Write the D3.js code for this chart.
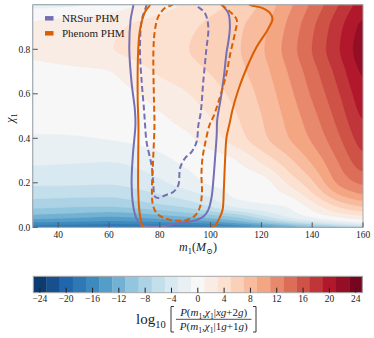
<!DOCTYPE html>
<html>
<head>
<meta charset="utf-8">
<style>
  body { margin: 0; background: #fff; }
  svg, text { font-family: "Liberation Serif", "Times New Roman", "DejaVu Serif", serif; }
  text { fill: #222; }
</style>
</head>
<body>
<svg width="374" height="338" font-family="Liberation Serif, Times New Roman, DejaVu Serif, serif"></svg>
<script src="https://cdn.jsdelivr.net/npm/d3@7"></script>
<script>

var m1Grid = [30, 40, 50, 60, 70, 80, 90, 100, 110, 120, 130, 140, 150, 160];
var chiGrid = [0, 0.02, 0.05, 0.1, 0.15, 0.2, 0.3, 0.4, 0.5, 0.6, 0.7, 0.8, 0.9, 1.0];
var logRatio = [
  [-19.0, -19.2, -19.5, -19.8, -19.8, -19.6, -19.4, -19.0, -18.0, -16.5, -14.5, -12.3, -10.0, -8.0],
  [-15.2, -15.4, -15.7, -16.0, -15.8, -15.4, -15.0, -14.2, -12.5, -10.3, -7.5, -4.8, -2.6, -0.9],
  [-11.6, -11.9, -12.3, -12.8, -12.4, -11.6, -10.7, -9.8, -8.4, -5.5, -2.5, -0.4, 1.4, 2.9],
  [-8.1, -8.3, -8.5, -8.5, -8.0, -7.2, -6.3, -4.5, -2.0, -1.2, -0.8, 2.0, 5.6, 7.8],
  [-6.2, -6.3, -6.4, -6.5, -5.9, -4.9, -3.9, -2.4, -0.5, -0.2, 1.1, 4.7, 9.0, 11.3],
  [-4.6, -4.6, -4.7, -4.8, -4.3, -3.4, -2.0, -0.7, -0.3, 0.0, 3.1, 6.5, 11.3, 13.6],
  [-2.6, -2.7, -2.8, -2.9, -2.5, -1.6, -0.6, -0.1, 0.9, 3.4, 6.2, 9.4, 13.0, 16.7],
  [-1.2, -1.2, -1.1, -0.9, -0.6, -0.1, 0.5, 2.1, 4.0, 6.4, 8.75, 11.3, 14.5, 18.4],
  [-0.3, -0.3, -0.2, 0.0, 0.3, 0.8, 1.8, 3.0, 4.85, 6.95, 9.45, 12.3, 15.65, 19.7],
  [0.0, 0.1, 0.2, 0.4, 0.85, 1.75, 2.8, 4.1, 5.6, 7.5, 10.15, 13.3, 16.65, 20.7],
  [0.3, 0.5, 0.7, 0.9, 2.05, 3.3, 4.2, 5.1, 6.3, 8.1, 10.9, 14.15, 17.65, 21.8],
  [1.4, 1.95, 2.45, 2.9, 3.55, 4.2, 4.87, 5.75, 6.68, 8.65, 11.64, 15.03, 18.65, 22.5],
  [1.3, 1.8, 2.2, 2.6, 3.25, 3.9, 4.6, 5.4, 6.5, 8.3, 11.2, 14.6, 18.2, 21.9],
  [-1.6, -1.5, -1.2, -0.4, 0.8, 2.0, 3.2, 4.4, 5.3, 7.3, 10.2, 13.4, 16.8, 20.3]
];

// credible-region contours, [m1, chi1]
var nrsurSolid = [[69.8,1.04],[69.6,1.0],[68.5,0.932],[68.0,0.797],[68.9,0.649],[70.2,0.527],[70.4,0.46],[69.4,0.325],[68.9,0.199],[69.6,0.091],[70.9,0.037],[72.6,0.01],[76.1,0.004],[80.1,0.004],[86.7,0.017],[94.5,0.033],[97.4,0.051],[99.1,0.078],[100.4,0.136],[101.1,0.213],[101.7,0.302],[102.4,0.415],[102.6,0.482],[103.9,0.572],[105.3,0.684],[106.3,0.788],[107.0,0.835],[107.6,0.9],[107.0,0.962],[104.4,1.0],[101.3,1.04]];
var nrsurDashed = [[75.4,1.044],[74.8,1.0],[72.9,0.932],[72.2,0.797],[72.9,0.649],[73.8,0.527],[74.2,0.46],[74.8,0.383],[76.8,0.276],[77.4,0.204],[78.1,0.138],[79.4,0.132],[82.4,0.145],[85.3,0.159],[87.3,0.19],[88.0,0.267],[89.9,0.31],[92.6,0.34],[94.5,0.385],[95.2,0.46],[96.1,0.514],[97.1,0.653],[98.3,0.797],[99.1,0.9],[97.8,0.962],[94.3,0.999],[91.9,1.04]];
var phenomSolid = [[76.9,1.044],[76.1,1.0],[74.2,0.968],[72.2,0.887],[71.5,0.797],[71.3,0.572],[71.6,0.46],[71.5,0.311],[71.5,0.168],[72.0,0.069],[72.9,0.015],[73.6,-0.008],[74.2,-0.1],[99.4,-0.1],[99.96,-0.008],[101.7,0.006],[103.3,0.037],[104.7,0.078],[105.2,0.168],[105.7,0.302],[106.3,0.406],[107.6,0.473],[108.6,0.527],[110.9,0.617],[114.2,0.716],[118.1,0.81],[122.4,0.887],[124.4,0.936],[123.4,0.963],[120.2,0.986],[115.5,1.0],[112.4,1.035]];
var phenomDashed = [[88.0,1.035],[84.8,1.0],[82.0,0.986],[79.4,0.947],[78.1,0.887],[77.5,0.797],[77.7,0.572],[77.9,0.46],[77.4,0.311],[76.9,0.159],[77.3,0.1],[78.8,0.063],[82.0,0.04],[86.7,0.03],[90.6,0.033],[93.9,0.053],[95.8,0.091],[96.6,0.159],[96.4,0.235],[96.8,0.31],[98.0,0.385],[99.6,0.46],[101.1,0.497],[103.7,0.586],[106.1,0.684],[107.8,0.783],[109.6,0.873],[110.3,0.932],[108.3,0.962],[104.5,0.999],[101.3,1.035]];

var xTicks = [40, 60, 80, 100, 120, 140, 160];
var yTicks = [0.0, 0.2, 0.4, 0.6, 0.8];
var levels = d3.range(-25, 26, 2);
var cbTicks = d3.range(-24, 25, 4);

var svg = d3.select("svg");

var x = d3.scaleLinear().domain([30, 160]).range([32.8, 363]);
var y = d3.scaleLinear().domain([0, 1]).range([227.3, 4.8]);

var rdbu = ["#67001f","#b2182b","#d6604d","#f4a582","#fddbc7","#f7f7f7","#d1e5f0","#92c5de","#4393c3","#2166ac","#053061"].reverse();
var cmap = d3.scaleLinear().domain(d3.range(11).map(function(i) { return i / 10; })).range(rdbu).interpolate(d3.interpolateRgb);
var color = function(v) { return cmap((v - levels[0]) / (levels[levels.length - 1] - levels[0])); };

// monotone cubic through the coarse samples (smoother bands than bilinear)
function smooth(xs, ys) {
  var N = xs.length, h = [], d = [], s = [], k;
  for (k = 0; k < N - 1; k++) { h[k] = xs[k + 1] - xs[k]; d[k] = (ys[k + 1] - ys[k]) / h[k]; }
  s[0] = d[0]; s[N - 1] = d[N - 2];
  for (k = 1; k < N - 1; k++) {
    s[k] = d[k - 1] * d[k] <= 0 ? 0 :
      3 * (h[k - 1] + h[k]) / ((2 * h[k] + h[k - 1]) / d[k - 1] + (h[k] + 2 * h[k - 1]) / d[k]);
  }
  return function(v) {
    var k = Math.max(0, Math.min(N - 2, d3.bisectRight(xs, v) - 1));
    var t = (v - xs[k]) / h[k], t2 = t * t, t3 = t2 * t;
    return (2 * t3 - 3 * t2 + 1) * ys[k] + (t3 - 2 * t2 + t) * h[k] * s[k] +
           (-2 * t3 + 3 * t2) * ys[k + 1] + (t3 - t2) * h[k] * s[k + 1];
  };
}

var n = 330, m = 223;
var rowFns = logRatio.map(function(row) { return smooth(m1Grid, row); });
var values = new Float64Array(n * m);
for (var i = 0; i < n; i++) {
  var mm = 30 + (i + 0.5) / n * 130;
  var colFn = smooth(chiGrid, rowFns.map(function(f) { return f(mm); }));
  for (var j = 0; j < m; j++) {
    values[j * n + i] = colFn(1 - (j + 0.5) / m);
  }
}
if (d3.blur2) d3.blur2({data: values, width: n, height: m}, 5, 1.2);

svg.append("clipPath").attr("id", "plotclip")
  .append("rect").attr("x", x(30)).attr("y", y(1)).attr("width", x(160) - x(30)).attr("height", y(0) - y(1));

var plot = svg.append("g").attr("clip-path", "url(#plotclip)");

var proj = d3.geoTransform({point: function(px, py) {
  this.stream.point(x(30 + px / n * 130), y(1 - py / m));
}});
var gpath = d3.geoPath(proj);

var contours = d3.contours().size([n, m]).thresholds(levels.slice(0, -1))(values);
plot.append("g").selectAll("path")
  .data(contours)
  .enter().append("path")
    .attr("d", gpath)
    .attr("fill", function(d) { return color(d.value + 1); })
    .attr("stroke", function(d) { return color(d.value + 1); })
    .attr("stroke-width", 0.3);

var line = d3.line()
  .x(function(d) { return x(d[0]); })
  .y(function(d) { return y(d[1]); })
  .curve(d3.curveCatmullRom.alpha(0.5));

var purple = "#7570b3", orange = "#d95f02";
var curves = [
  {data: nrsurSolid, c: purple, dash: null},
  {data: nrsurDashed, c: purple, dash: "6,3.2"},
  {data: phenomSolid, c: orange, dash: null},
  {data: phenomDashed, c: orange, dash: "6,3.2"}
];
plot.selectAll(".cl")
  .data(curves)
  .enter().append("path")
    .attr("class", "cl")
    .attr("d", function(d) { return line(d.data); })
    .attr("fill", "none")
    .attr("stroke", function(d) { return d.c; })
    .attr("stroke-width", 2)
    .attr("stroke-dasharray", function(d) { return d.dash; });

// frame
svg.append("rect")
  .attr("x", x(30)).attr("y", y(1)).attr("width", x(160) - x(30)).attr("height", y(0) - y(1))
  .attr("fill", "none").attr("stroke", "#a8a8a8").attr("stroke-width", 1);

// ticks (pointing in)
svg.append("g").selectAll("line").data(xTicks).enter().append("line")
  .attr("x1", x).attr("x2", x).attr("y1", y(0)).attr("y2", y(0) - 5)
  .attr("stroke", "#555").attr("stroke-width", 1);
svg.append("g").selectAll("text").data(xTicks).enter().append("text")
  .attr("x", x).attr("y", y(0) + 10.5)
  .attr("text-anchor", "middle").style("font-size", "9.5px")
  .text(function(d) { return d; });

svg.append("g").selectAll("line").data(yTicks).enter().append("line")
  .attr("x1", x(30)).attr("x2", x(30) + 5).attr("y1", y).attr("y2", y)
  .attr("stroke", "#555").attr("stroke-width", 1);
svg.append("g").selectAll("text").data(yTicks).enter().append("text")
  .attr("x", x(30) - 2.5).attr("y", function(d) { return y(d) + 3.3; })
  .attr("text-anchor", "end").style("font-size", "9.5px")
  .text(function(d) { return d.toFixed(1); });

// rich text helper: parts of [string, "i" italic | "s" subscript | ""]
function rich(g, px, py, size, anchor, parts) {
  var t = g.append("text").attr("x", px).attr("y", py)
    .attr("text-anchor", anchor).style("font-size", size + "px");
  var down = false;
  parts.forEach(function(p) {
    var sub = p[1].indexOf("s") >= 0;
    var ts = t.append("tspan").text(p[0]);
    if (p[1].indexOf("i") >= 0) ts.style("font-style", "italic");
    if (sub) ts.style("font-size", (size * 0.7) + "px");
    if (sub && !down) { ts.attr("dy", size * 0.28); down = true; }
    else if (!sub && down) { ts.attr("dy", -size * 0.28); down = false; }
  });
  return t;
}

// axis labels
rich(svg, 198, 250.5, 12, "middle", [["m", "i"], ["1", "s"], ["(", ""], ["M", "i"], ["\u2299", "s"], [")", ""]]);
rich(svg, 0, 0, 12, "middle", [["\u03c7", "i"], ["1", "s"]])
  .attr("transform", "translate(14," + ((y(0) + y(1)) / 2 + 2) + ") rotate(-90)");

// legend
var legend = svg.append("g");
[{label: "NRSur PHM", c: purple}, {label: "Phenom PHM", c: orange}].forEach(function(d, k) {
  var ly = 18.3 + k * 15;
  legend.append("line").attr("x1", 45).attr("x2", 53.5).attr("y1", ly).attr("y2", ly)
    .attr("stroke", d.c).attr("stroke-width", 4.5);
  legend.append("text").attr("x", 62).attr("y", ly + 3.8).style("font-size", "11px").text(d.label);
});

// colorbar
var cb = d3.scaleLinear().domain([levels[0], levels[levels.length - 1]]).range([33.3, 362.3]);
var cbTop = 276.3, cbH = 16.4;
svg.append("g").selectAll("rect").data(levels.slice(0, -1)).enter().append("rect")
  .attr("x", function(d) { return cb(d); })
  .attr("width", function(d) { return cb(d + 2) - cb(d) + 0.3; })
  .attr("y", cbTop).attr("height", cbH)
  .attr("fill", function(d) { return color(d + 1); });
svg.append("rect").attr("x", cb(-25)).attr("y", cbTop).attr("width", cb(25) - cb(-25)).attr("height", cbH)
  .attr("fill", "none").attr("stroke", "#a8a8a8").attr("stroke-width", 1);
svg.append("g").selectAll("line").data(cbTicks).enter().append("line")
  .attr("x1", cb).attr("x2", cb).attr("y1", cbTop + cbH).attr("y2", cbTop + cbH - 5)
  .attr("stroke", "#222").attr("stroke-width", 1);
svg.append("g").selectAll("text").data(cbTicks).enter().append("text")
  .attr("x", cb).attr("y", cbTop + cbH + 9.5)
  .attr("text-anchor", "middle").style("font-size", "9.5px")
  .text(function(d) { return d < 0 ? "\u2212" + Math.abs(d) : d; });

// colorbar label: log10 [ P(...) / P(...) ]
var lab = svg.append("g");
rich(lab, 136, 323.5, 15, "start", [["log", ""], ["10", "s"]]);
var bx0 = 171, bx1 = 256, by0 = 306.5, by1 = 332;
lab.append("path")
  .attr("d", "M" + (bx0 + 3) + "," + by0 + "H" + bx0 + "V" + by1 + "H" + (bx0 + 3) +
             "M" + (bx1 - 3) + "," + by0 + "H" + bx1 + "V" + by1 + "H" + (bx1 - 3))
  .attr("fill", "none").attr("stroke", "#222").attr("stroke-width", 0.9);
lab.append("line").attr("x1", 176).attr("x2", 251.5).attr("y1", 319.3).attr("y2", 319.3)
  .attr("stroke", "#222").attr("stroke-width", 0.8);
rich(lab, 213.7, 315.5, 11, "middle", [["P", "i"], ["(", ""], ["m", "i"], ["1", "s"], [",", ""], ["\u03c7", "i"], ["1", "s"], ["|", ""], ["xg", "i"], ["+2", ""], ["g", "i"], [")", ""]]);
rich(lab, 213.7, 329.5, 11, "middle", [["P", "i"], ["(", ""], ["m", "i"], ["1", "s"], [",", ""], ["\u03c7", "i"], ["1", "s"], ["|1", ""], ["g", "i"], ["+1", ""], ["g", "i"], [")", ""]]);

</script>
</body>
</html>
